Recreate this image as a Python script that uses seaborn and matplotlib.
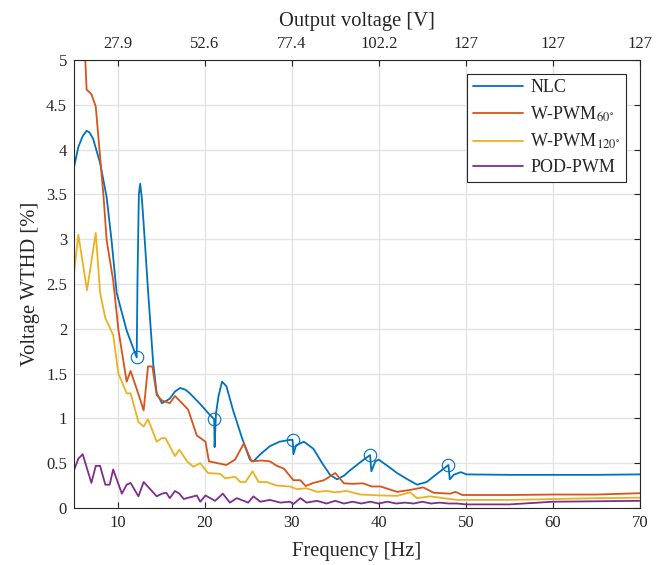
import numpy as np
import pandas as pd
import seaborn as sns
import matplotlib.pyplot as plt

# NLC
nlc_x = [5, 5.5, 6.0, 6.45, 6.8, 7.2, 8.0, 8.75, 9.3, 9.9, 11.05, 12.2, 12.3, 12.45, 12.6, 12.8,
         13.05, 13.55, 14.1, 14.5, 15.1, 15.5, 16.0, 16.6, 17.2, 17.8, 18.3, 19.5, 20.5, 21.1,
         21.15, 21.3, 21.6, 22.0, 22.5, 23.3, 24.3, 25.2, 25.6, 26.4, 27.5, 28.6, 29.8, 30.1,
         30.2, 30.5, 31.4, 32.5, 33.5, 34.4, 35.2, 36.0, 36.7, 38.0, 39.0, 39.15, 39.6, 40.0,
         41.0, 42.1, 43.3, 44.4, 45.5, 46.8, 48.0, 48.15, 48.6, 49.4, 50.1, 55, 60, 65, 70]
nlc_y = [3.8, 4.03, 4.15, 4.21, 4.19, 4.12, 3.85, 3.47, 3.0, 2.4, 1.98, 1.68, 2.6, 3.5, 3.62, 3.45,
         3.1, 2.36, 1.61, 1.28, 1.17, 1.19, 1.22, 1.3, 1.34, 1.32, 1.28, 1.16, 1.05, 0.99,
         0.68, 1.05, 1.25, 1.41, 1.36, 1.08, 0.78, 0.54, 0.52, 0.6, 0.69, 0.74, 0.76, 0.76,
         0.6, 0.7, 0.74, 0.66, 0.5, 0.37, 0.32, 0.36, 0.42, 0.52, 0.59, 0.41, 0.52, 0.54,
         0.47, 0.39, 0.32, 0.26, 0.29, 0.39, 0.48, 0.32, 0.37, 0.40, 0.375, 0.37, 0.37, 0.37, 0.375]

# W-PWM 60
w60_x = [5, 6.3, 6.45, 7.0, 7.5, 8.4, 8.75, 9.5, 10.1, 11.05, 11.5, 12.3, 13.0, 13.5, 14.0, 14.5,
         15.1, 16.0, 16.6, 17.3, 18.1, 19.1, 20.1, 20.5, 21.5, 22.5, 23.5, 24.5, 25.4, 26.5,
         27.5, 28.3, 29.1, 30.2, 31.0, 31.6, 32.5, 33.7, 35.0, 36.0, 37.0, 38.2, 39.2, 40.2,
         42.1, 43.5, 45.1, 46.3, 48.2, 48.8, 49.6, 55, 60, 65, 70]
w60_y = [6.0, 5.0, 4.67, 4.62, 4.48, 3.47, 2.99, 2.54, 1.99, 1.41, 1.53, 1.3, 1.09, 1.58, 1.58, 1.26,
         1.2, 1.17, 1.25, 1.18, 1.1, 0.81, 0.74, 0.52, 0.5, 0.48, 0.54, 0.72, 0.52, 0.53,
         0.52, 0.47, 0.44, 0.31, 0.31, 0.245, 0.28, 0.31, 0.39, 0.275, 0.27, 0.275, 0.24, 0.24,
         0.18, 0.2, 0.23, 0.17, 0.16, 0.18, 0.145, 0.145, 0.15, 0.15, 0.165]

# W-PWM 120
w120_x = [5, 5.5, 6.5, 7.5, 8.0, 8.6, 9.5, 10.1, 11.05, 11.5, 12.4, 13.0, 13.5, 14.5, 15.1, 15.5,
          16.6, 17.1, 18.0, 18.7, 19.5, 20.4, 21.8, 22.4, 23.5, 24.1, 24.7, 25.5, 26.2, 27.1,
          28.3, 29.8, 30.6, 31.7, 32.9, 34.0, 35.0, 36.3, 37.9, 39.2, 40.2, 42.1, 43.6, 44.4,
          45.9, 47.4, 49.0, 55, 60, 65, 70]
w120_y = [2.62, 3.05, 2.43, 3.07, 2.4, 2.12, 1.93, 1.5, 1.28, 1.28, 0.96, 0.91, 0.99, 0.74, 0.78, 0.78,
          0.58, 0.65, 0.52, 0.46, 0.5, 0.39, 0.38, 0.33, 0.35, 0.29, 0.29, 0.41, 0.29, 0.29,
          0.25, 0.24, 0.21, 0.22, 0.18, 0.19, 0.175, 0.19, 0.15, 0.145, 0.14, 0.135, 0.175, 0.11,
          0.13, 0.11, 0.09, 0.09, 0.1, 0.11, 0.115]

# POD-PWM
pod_x = [5, 5.5, 6.0, 7.0, 7.5, 8.0, 8.6, 9.1, 9.5, 10.5, 11.05, 11.5, 12.4, 13.0, 14.5, 15.1,
         15.6, 16.0, 16.6, 17.1, 17.6, 19.1, 19.5, 20.1, 21.2, 22.1, 22.9, 23.7, 25.0, 25.6,
         26.4, 27.5, 28.7, 29.8, 30.2, 31.0, 31.7, 32.9, 34.0, 35.0, 36.0, 37.0, 38.0, 39.0,
         40.0, 41.0, 42.0, 43.0, 44.0, 45.0, 46.0, 47.0, 48.0, 49.0, 50.0, 55, 60, 65, 70]
pod_y = [0.42, 0.55, 0.6, 0.28, 0.47, 0.47, 0.26, 0.26, 0.43, 0.16, 0.26, 0.28, 0.13, 0.29, 0.13, 0.16,
         0.17, 0.11, 0.19, 0.16, 0.1, 0.14, 0.07, 0.14, 0.08, 0.16, 0.06, 0.11, 0.06, 0.13,
         0.07, 0.09, 0.06, 0.07, 0.045, 0.11, 0.06, 0.08, 0.05, 0.08, 0.05, 0.07, 0.05, 0.07,
         0.05, 0.07, 0.05, 0.06, 0.05, 0.07, 0.05, 0.06, 0.05, 0.05, 0.04, 0.04, 0.07, 0.075, 0.08]

# circled points on NLC
mark_x = [12.2, 21.1, 30.1, 39.0, 48.0]
mark_y = [1.68, 0.99, 0.76, 0.59, 0.48]

top_ticks = [10, 20, 30, 40, 50, 60, 70]
top_labels = ['27.9', '52.6', '77.4', '102.2', '127', '127', '127']

names = ['NLC', r'W-PWM$_{60^{\circ}}$', r'W-PWM$_{120^{\circ}}$', 'POD-PWM']
colors = ['#0072BD', '#D95319', '#EDB120', '#7E2F8E']

frames = []
for name, xs, ys in zip(names, [nlc_x, w60_x, w120_x, pod_x], [nlc_y, w60_y, w120_y, pod_y]):
    frames.append(pd.DataFrame({'f': xs, 'wthd': ys, 'method': name}))
df = pd.concat(frames, ignore_index=True)

sns.set_style("whitegrid")
plt.rcParams['font.family'] = ['Liberation Serif', 'DejaVu Serif']
plt.rcParams['mathtext.fontset'] = 'stix'

fig = plt.figure(figsize=(6.57, 5.65), dpi=100)
ax = fig.add_axes([0.1126, 0.1009, 0.8616, 0.7929])

sns.lineplot(data=df, x='f', y='wthd', hue='method', hue_order=names, palette=colors,
             sort=False, estimator=None, linewidth=1.3, ax=ax)
ax.plot(mark_x, mark_y, 'o', mfc='none', mec=colors[0], ms=9, mew=0.8)

ax.set_xlim(5, 70)
ax.set_ylim(0, 5)
ax.set_yticks(np.arange(0, 5.01, 0.5))
ax.set_yticklabels(['0', '0.5', '1', '1.5', '2', '2.5', '3', '3.5', '4', '4.5', '5'])
ax.set_xticks([10, 20, 30, 40, 50, 60, 70])
ax.set_xlabel('Frequency [Hz]', fontsize=14.8, labelpad=8)
ax.set_ylabel('Voltage WTHD [%]', fontsize=14.8, labelpad=4)
ax.grid(True, color='#e3e3e3', linewidth=1.0)
ax.tick_params(direction='in', labelsize=12, length=4, color='#262626', right=True, pad=5)
for s in ax.spines.values():
    s.set_visible(True)
    s.set_color('#262626')
    s.set_linewidth(0.8)

ax2 = ax.twiny()
ax2.set_xlim(ax.get_xlim())
ax2.set_xticks(top_ticks)
ax2.set_xticklabels(top_labels)
ax2.set_xlabel('Output voltage [V]', fontsize=14.8, labelpad=7)
ax2.tick_params(direction='in', labelsize=12, length=4, color='#262626', pad=6)
ax2.grid(False)
for s in ax2.spines.values():
    s.set_visible(False)

handles, labels = ax.get_legend_handles_labels()
leg = ax.legend(handles[:4], names, loc='upper right', bbox_to_anchor=(0.975, 0.969),
                borderaxespad=0, fontsize=13, frameon=True, fancybox=False, framealpha=1,
                edgecolor='#262626', handlelength=2.8, handletextpad=0.4,
                borderpad=0.3, labelspacing=0.45)
leg.get_frame().set_linewidth(0.8)

fig.savefig('out.png', dpi=100)
